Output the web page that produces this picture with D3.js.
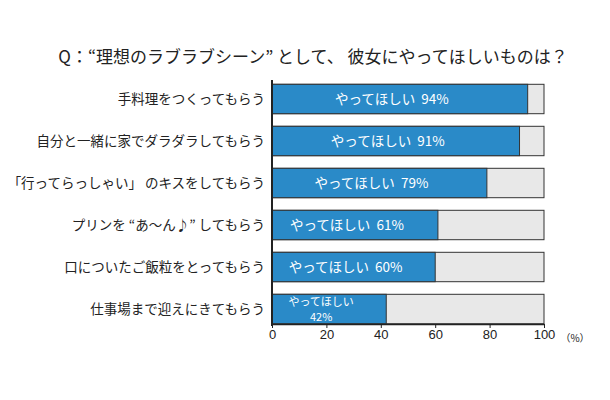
<!DOCTYPE html>
<html><head><meta charset="utf-8">
<script src="https://cdn.jsdelivr.net/npm/d3@7"></script>
<style>body{margin:0;background:#fff;} text{font-family:"Noto Sans CJK JP","Noto Sans",sans-serif;}</style>
</head><body><svg id="c" width="610" height="400"></svg>
<script>
const title = "Q：“理想のラブラブシーン” として、 彼女にやってほしいものは？";
const categories = ["手料理をつくってもらう","自分と一緒に家でダラダラしてもらう","「行ってらっしゃい」 のキスをしてもらう","プリンを “あ〜ん♪” してもらう","口についたご飯粒をとってもらう","仕事場まで迎えにきてもらう"];
const values = [94,91,79,61,60,42];
const barLabel = "やってほしい";
const ticks = [0,20,40,60,80,100];
const unit = "（%）";

const svg = d3.select("#c");
const x = d3.scaleLinear().domain([0,100]).range([272,544]);
const y = d3.scaleBand().domain(categories).range([78,330]).paddingInner(0.3).paddingOuter(0.15);

svg.append("text").attr("x",313).attr("y",63).attr("text-anchor","middle").attr("font-size",17).attr("fill","#222").text(title);

const g = svg.append("g");
g.selectAll("rect.bg").data(categories).join("rect")
  .attr("x",x(0)).attr("y",d=>y(d)).attr("width",x(100)-x(0)).attr("height",y.bandwidth())
  .attr("fill","#e8e8e8").attr("stroke","#333").attr("stroke-width",1);
g.selectAll("rect.fg").data(values).join("rect")
  .attr("x",x(0)).attr("y",(d,i)=>y(categories[i])).attr("width",d=>x(d)-x(0)).attr("height",y.bandwidth())
  .attr("fill","#2a8ac8").attr("stroke","#333").attr("stroke-width",1);

g.selectAll("text.cat").data(categories).join("text")
  .attr("x",265).attr("y",d=>y(d)+y.bandwidth()/2).attr("dy","0.35em")
  .attr("text-anchor","end").attr("font-size",13.5).attr("fill","#222").text(d=>d);

values.forEach((v,i)=>{
  const cx = (x(0)+x(v))/2 - 8;
  const cy = y(categories[i])+y.bandwidth()/2;
  if (v < 50) {
    g.append("text").attr("x",cx).attr("y",cy-7).attr("dy","0.35em").attr("text-anchor","middle")
      .attr("font-size",11).attr("fill","#fff").text(barLabel);
    g.append("text").attr("x",cx).attr("y",cy+8).attr("dy","0.35em").attr("text-anchor","middle")
      .attr("font-size",11).attr("fill","#fff").text(v+"%");
  } else {
    g.append("text").attr("x",cx).attr("y",cy).attr("dy","0.35em").attr("text-anchor","middle")
      .attr("font-size",13.5).attr("fill","#fff").attr("xml:space","preserve").text(barLabel+"  "+v+"%");
  }
});

const axis = d3.axisBottom(x).tickValues(ticks).tickSize(4).tickSizeOuter(0);
const ag = svg.append("g").attr("transform","translate(0,324)").call(axis);
ag.select(".domain").attr("stroke","#222").attr("stroke-width",1.5);
ag.selectAll(".tick line").attr("stroke","#222");
ag.selectAll(".tick text").attr("font-size",13).attr("fill","#222").attr("dy","0.6em")
  .style("font-family","'Liberation Sans',Arial,sans-serif");
svg.append("line").attr("x1",x(0)).attr("x2",x(0)).attr("y1",80).attr("y2",326).attr("stroke","#222").attr("stroke-width",2);
svg.append("text").attr("x",575).attr("y",342).attr("text-anchor","middle").attr("font-size",10).attr("fill","#222").text(unit);
</script></body></html>
